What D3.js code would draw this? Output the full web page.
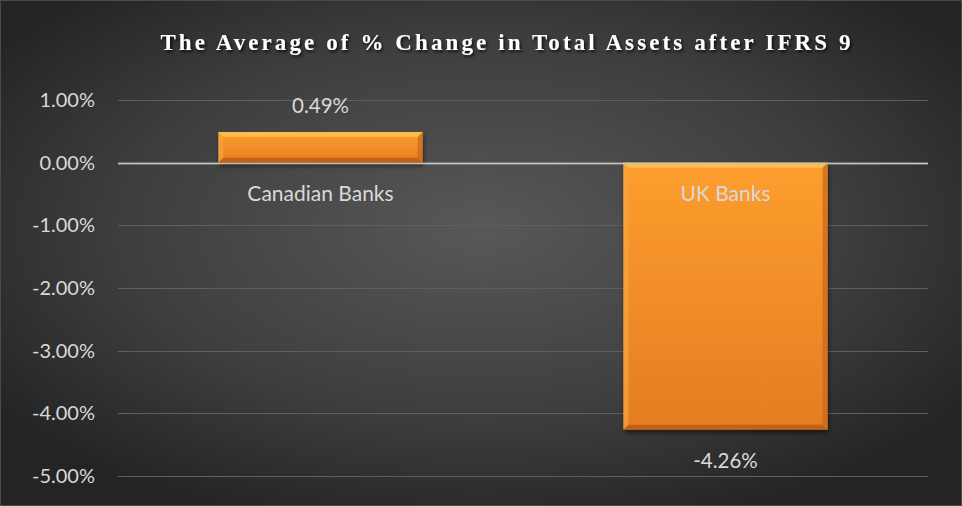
<!DOCTYPE html>
<html>
<head>
<meta charset="utf-8">
<script src="https://cdn.jsdelivr.net/npm/d3@7"></script>
<style>
  html, body { margin: 0; padding: 0; background: #262626; }
  svg { display: block; }
</style>
</head>
<body>
<svg id="chart" width="962" height="506"></svg>
<script>
// Average % change in total assets after IFRS 9, by bank group
const categories = ["Canadian Banks", "UK Banks"];
const values = [0.49, -4.26];            // percent
const valueLabels = ["0.49%", "-4.26%"];
const tickValues = [1, 0, -1, -2, -3, -4, -5];
const tickLabels = ["1.00%", "0.00%", "-1.00%", "-2.00%", "-3.00%", "-4.00%", "-5.00%"];
const title = "The Average of % Change in Total Assets after IFRS 9";

const W = 962, H = 506;
const margin = { left: 118, right: 34, top: 100, bottom: 30 };
const labelFont = "Lato, 'Open Sans', sans-serif";
const svg = d3.select("#chart");
const defs = svg.append("defs");

// Chart-area background: dark radial vignette
const bg = defs.append("radialGradient").attr("id", "bg")
  .attr("cx", "50%").attr("cy", "45%").attr("r", "62%");
bg.append("stop").attr("offset", "0%").attr("stop-color", "#585858");
bg.append("stop").attr("offset", "60%").attr("stop-color", "#3e3e3e");
bg.append("stop").attr("offset", "100%").attr("stop-color", "#242424");
svg.append("rect").attr("width", W).attr("height", H).attr("fill", "url(#bg)");
svg.append("rect").attr("x", 0.5).attr("y", 0.5).attr("width", W - 1).attr("height", H - 1)
  .attr("fill", "none").attr("stroke", "#4a4a4a").attr("stroke-width", 1);

// Bar fill gradient
const barGrad = defs.append("linearGradient").attr("id", "barFill")
  .attr("x1", 0).attr("y1", 0).attr("x2", 0).attr("y2", 1);
barGrad.append("stop").attr("offset", "0%").attr("stop-color", "#fd9e2e");
barGrad.append("stop").attr("offset", "100%").attr("stop-color", "#e47d22");

const shadow = defs.append("filter").attr("id", "shadow")
  .attr("x", "-10%").attr("y", "-10%").attr("width", "130%").attr("height", "140%");
shadow.append("feGaussianBlur").attr("in", "SourceAlpha").attr("stdDeviation", 2.5);
shadow.append("feOffset").attr("dx", 1).attr("dy", 3).attr("result", "off");
shadow.append("feComponentTransfer").append("feFuncA").attr("type", "linear").attr("slope", 0.55);
const merge = shadow.append("feMerge");
merge.append("feMergeNode");
merge.append("feMergeNode").attr("in", "SourceGraphic");

const titleShadow = defs.append("filter").attr("id", "tshadow")
  .attr("x", "-5%").attr("y", "-30%").attr("width", "110%").attr("height", "160%");
titleShadow.append("feDropShadow").attr("dx", 1.5).attr("dy", 2).attr("stdDeviation", 1.5)
  .attr("flood-color", "#000").attr("flood-opacity", 0.8);

// Scales
const y = d3.scaleLinear().domain([1, -5]).range([100, 476]);
const x = d3.scaleBand().domain(categories)
  .range([margin.left, W - margin.right]).paddingInner(0.496).paddingOuter(0.248);

// Gridlines
svg.append("g").selectAll("line").data(tickValues).join("line")
  .attr("x1", margin.left).attr("x2", W - margin.right)
  .attr("y1", d => Math.round(y(d)) + 0.5).attr("y2", d => Math.round(y(d)) + 0.5)
  .attr("stroke", d => d === 0 ? "#b8b8b8" : "#5f5f5f")
  .attr("stroke-width", d => d === 0 ? 1.6 : 1.2);

// Y axis labels
const yAxis = d3.axisLeft(y).tickValues(tickValues)
  .tickFormat((d, i) => tickLabels[i]).tickSize(0).tickPadding(0);
const ya = svg.append("g").attr("transform", "translate(95,0)").call(yAxis);
ya.select(".domain").remove();
ya.selectAll("text").attr("fill", "#d9d9d9")
  .attr("font-family", labelFont).attr("font-size", 20);

// Bars with bevel
const bars = svg.append("g").selectAll("g").data(categories).join("g");
bars.each(function (c, i) {
  const g = d3.select(this);
  const v = values[i];
  const x0 = x(c), bw = x.bandwidth();
  const top = y(Math.max(0, v)), bot = y(Math.min(0, v));
  const h = bot - top;
  const b = 5; // bevel width
  g.append("rect").attr("x", x0).attr("y", top).attr("width", bw).attr("height", h)
    .attr("fill", "url(#barFill)").attr("filter", "url(#shadow)");
  // top bevel (light)
  g.append("path").attr("d", `M${x0},${top} L${x0 + bw},${top} L${x0 + bw - b},${top + b} L${x0 + b},${top + b} Z`)
    .attr("fill", "#fcc257").attr("opacity", 0.85);
  // left bevel
  g.append("path").attr("d", `M${x0},${top} L${x0 + b},${top + b} L${x0 + b},${bot - b} L${x0},${bot} Z`)
    .attr("fill", "#f6a540").attr("opacity", 0.7);
  // right bevel (dark)
  g.append("path").attr("d", `M${x0 + bw},${top} L${x0 + bw},${bot} L${x0 + bw - b},${bot - b} L${x0 + bw - b},${top + b} Z`)
    .attr("fill", "#c9661a").attr("opacity", 0.7);
  // bottom bevel (dark)
  g.append("path").attr("d", `M${x0},${bot} L${x0 + bw},${bot} L${x0 + bw - b},${bot - b} L${x0 + b},${bot - b} Z`)
    .attr("fill", "#b85a14").attr("opacity", 0.8);
});

// Zero line drawn over the bars' edge
svg.append("line").attr("x1", margin.left).attr("x2", W - margin.right)
  .attr("y1", Math.round(y(0)) + 0.5).attr("y2", Math.round(y(0)) + 0.5)
  .attr("stroke", "#c4c4c4").attr("stroke-width", 1.6).attr("opacity", 0.9);

// Category labels just below the zero line
svg.append("g").selectAll("text").data(categories).join("text")
  .attr("x", d => x(d) + x.bandwidth() / 2).attr("y", y(0) + 38)
  .attr("text-anchor", "middle").attr("fill", "#d9d9d9")
  .attr("font-family", labelFont).attr("font-size", 21)
  .text(d => d);

// Value labels
svg.append("g").selectAll("text").data(categories).join("text")
  .attr("x", d => x(d) + x.bandwidth() / 2)
  .attr("y", (d, i) => values[i] >= 0 ? y(values[i]) - 19 : y(values[i]) + 38)
  .attr("text-anchor", "middle").attr("fill", "#d9d9d9")
  .attr("font-family", labelFont).attr("font-size", 20.5)
  .text((d, i) => valueLabels[i]);

// Title
svg.append("text").attr("x", 507).attr("y", 50).attr("text-anchor", "middle")
  .attr("fill", "#ffffff").attr("font-family", "'Liberation Serif', 'Times New Roman', serif")
  .attr("font-weight", "bold").attr("font-size", 23).attr("letter-spacing", 3.1)
  .attr("filter", "url(#tshadow)")
  .text(title);
</script>
</body>
</html>
